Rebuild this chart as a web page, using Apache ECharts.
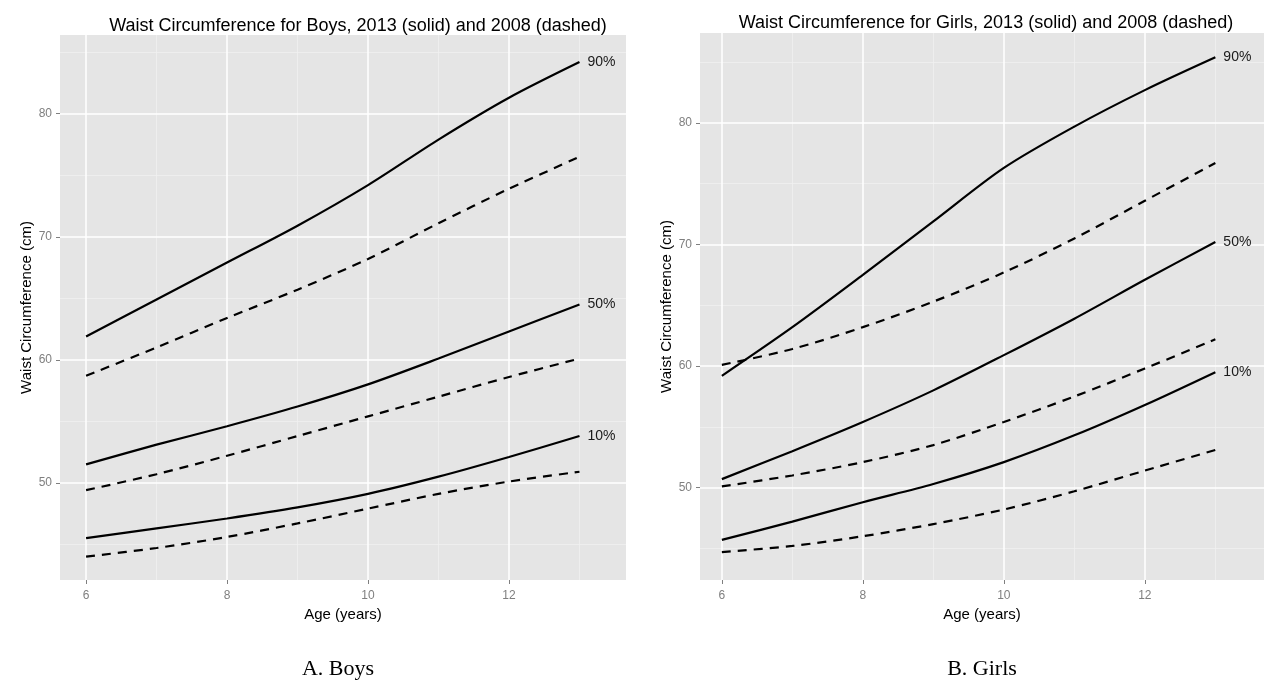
<!DOCTYPE html>
<html>
<head>
<meta charset="utf-8">
<script src="https://cdn.jsdelivr.net/npm/echarts@6/dist/echarts.min.js"></script>
<style>
html,body{margin:0;padding:0;background:#fff;}
#chart{width:1288px;height:700px;}
</style>
</head>
<body>
<div id="chart"></div>
<script>
// ---- data ----
const ages = [6, 7, 8, 9, 10, 11, 12, 13];

const boys2013P90 = [61.9, 64.9, 67.9, 70.9, 74.2, 77.9, 81.3, 84.2];
const boys2008P90 = [58.7, 61.0, 63.4, 65.7, 68.2, 71.1, 73.9, 76.5];
const boys2013P50 = [51.5, 53.1, 54.6, 56.2, 58.0, 60.1, 62.3, 64.5];
const boys2008P50 = [49.4, 50.7, 52.2, 53.8, 55.4, 57.0, 58.6, 60.1];
const boys2013P10 = [45.5, 46.3, 47.1, 48.0, 49.1, 50.5, 52.1, 53.8];
const boys2008P10 = [44.0, 44.7, 45.6, 46.7, 47.9, 49.1, 50.1, 50.9];

const girls2013P90 = [59.2, 63.2, 67.5, 71.9, 76.3, 79.7, 82.7, 85.4];
const girls2008P90 = [60.1, 61.4, 63.2, 65.3, 67.7, 70.5, 73.6, 76.7];
const girls2013P50 = [50.7, 53.0, 55.4, 58.0, 60.9, 63.9, 67.1, 70.2];
const girls2008P50 = [50.1, 51.0, 52.1, 53.5, 55.4, 57.5, 59.8, 62.2];
const girls2013P10 = [45.7, 47.2, 48.8, 50.3, 52.1, 54.3, 56.8, 59.5];
const girls2008P10 = [44.7, 45.2, 46.0, 47.0, 48.2, 49.7, 51.4, 53.1];

const xTicks = [6, 8, 10, 12];
const xMinorTicks = [7, 9, 11, 13];
const yTicks = [50, 60, 70, 80];
const yMinorTicks = [45, 55, 65, 75, 85];

const titles = [
  'Waist Circumference for Boys, 2013 (solid) and 2008 (dashed)',
  'Waist Circumference for Girls, 2013 (solid) and 2008 (dashed)'
];
const captions = ['A. Boys', 'B. Girls'];
const xTitle = 'Age (years)';
const yTitle = 'Waist Circumference (cm)';
const pctLabels = ['90%', '50%', '10%'];

// ---- helpers ----
const pair = (vals) => ages.map((a, i) => [a, vals[i]]);
const SANS = '"Liberation Sans", Arial, sans-serif';
const SERIF = '"Liberation Serif", "Times New Roman", serif';

function curve(idx, vals, dashed, label) {
  const s = {
    type: 'line',
    xAxisIndex: idx, yAxisIndex: idx,
    data: pair(vals),
    smooth: 0.3,
    showSymbol: false,
    symbol: 'none',
    silent: true,
    z: 5,
    lineStyle: {color: '#000', width: 2.2, type: dashed ? [9, 7] : 'solid'}
  };
  if (label) {
    s.endLabel = {
      show: true, formatter: label, distance: 8,
      color: '#1a1a1a', fontSize: 14, fontFamily: SANS
    };
  }
  return s;
}

function gridSeries(idx) {
  const ml = [];
  yMinorTicks.forEach(v => ml.push({yAxis: v, lineStyle: {color: '#F0F0F0', width: 0.8, type: 'solid'}}));
  xMinorTicks.forEach(v => ml.push({xAxis: v, lineStyle: {color: '#F0F0F0', width: 0.8, type: 'solid'}}));
  yTicks.forEach(v => ml.push({yAxis: v, lineStyle: {color: '#FFFFFF', width: 1.5, type: 'solid'}}));
  xTicks.forEach(v => ml.push({xAxis: v, lineStyle: {color: '#FFFFFF', width: 1.5, type: 'solid'}}));
  return {
    type: 'line', xAxisIndex: idx, yAxisIndex: idx, data: [], silent: true, z: 1,
    markLine: {silent: true, symbol: ['none', 'none'], label: {show: false}, animation: false, data: ml}
  };
}

function xAxis(idx, min, max) {
  return {
    type: 'value', gridIndex: idx, min: min, max: max,
    name: xTitle, nameLocation: 'middle', nameGap: 25,
    nameTextStyle: {color: '#000', fontSize: 15, fontFamily: SANS},
    axisLine: {show: false},
    splitLine: {show: false},
    axisTick: {show: true, length: 4, customValues: xTicks, lineStyle: {color: '#7F7F7F', width: 1}},
    axisLabel: {show: true, customValues: xTicks, color: '#7F7F7F', fontSize: 12, margin: 10, fontFamily: SANS}
  };
}
function yAxis(idx, min, max) {
  return {
    type: 'value', gridIndex: idx, min: min, max: max,
    name: yTitle, nameLocation: 'middle', nameGap: 24, nameRotate: 90,
    nameTextStyle: {color: '#000', fontSize: 15, fontFamily: SANS},
    axisLine: {show: false},
    splitLine: {show: false},
    axisTick: {show: true, length: 4, customValues: yTicks, lineStyle: {color: '#7F7F7F', width: 1}},
    axisLabel: {show: true, customValues: yTicks, color: '#7F7F7F', fontSize: 12, margin: 8, fontFamily: SANS}
  };
}

const chart = echarts.init(document.getElementById('chart'), null, {renderer: 'canvas'});
chart.setOption({
  animation: false,
  backgroundColor: '#fff',
  title: [
    {text: titles[0], left: 353, top: 12, textAlign: 'center',
     textStyle: {fontSize: 18, fontWeight: 'normal', color: '#000', fontFamily: SANS}},
    {text: titles[1], left: 981, top: 9, textAlign: 'center',
     textStyle: {fontSize: 18, fontWeight: 'normal', color: '#000', fontFamily: SANS}},
    {text: captions[0], left: 333, top: 653, textAlign: 'center',
     textStyle: {fontSize: 22, fontWeight: 'normal', color: '#000', fontFamily: SERIF}},
    {text: captions[1], left: 977, top: 653, textAlign: 'center',
     textStyle: {fontSize: 22, fontWeight: 'normal', color: '#000', fontFamily: SERIF}}
  ],
  grid: [
    {left: 60, width: 566, top: 35, height: 545, backgroundColor: '#E5E5E5', show: true, borderWidth: 0},
    {left: 700, width: 564, top: 33, height: 547, backgroundColor: '#E5E5E5', show: true, borderWidth: 0}
  ],
  xAxis: [xAxis(0, 5.63, 13.66), xAxis(1, 5.69, 13.69)],
  yAxis: [yAxis(0, 42.1, 86.4), yAxis(1, 42.4, 87.4)],
  series: [
    gridSeries(0), gridSeries(1),
    curve(0, boys2013P90, false, pctLabels[0]),
    curve(0, boys2008P90, true),
    curve(0, boys2013P50, false, pctLabels[1]),
    curve(0, boys2008P50, true),
    curve(0, boys2013P10, false, pctLabels[2]),
    curve(0, boys2008P10, true),
    curve(1, girls2013P90, false, pctLabels[0]),
    curve(1, girls2008P90, true),
    curve(1, girls2013P50, false, pctLabels[1]),
    curve(1, girls2008P50, true),
    curve(1, girls2013P10, false, pctLabels[2]),
    curve(1, girls2008P10, true)
  ]
});
</script>
</body>
</html>
